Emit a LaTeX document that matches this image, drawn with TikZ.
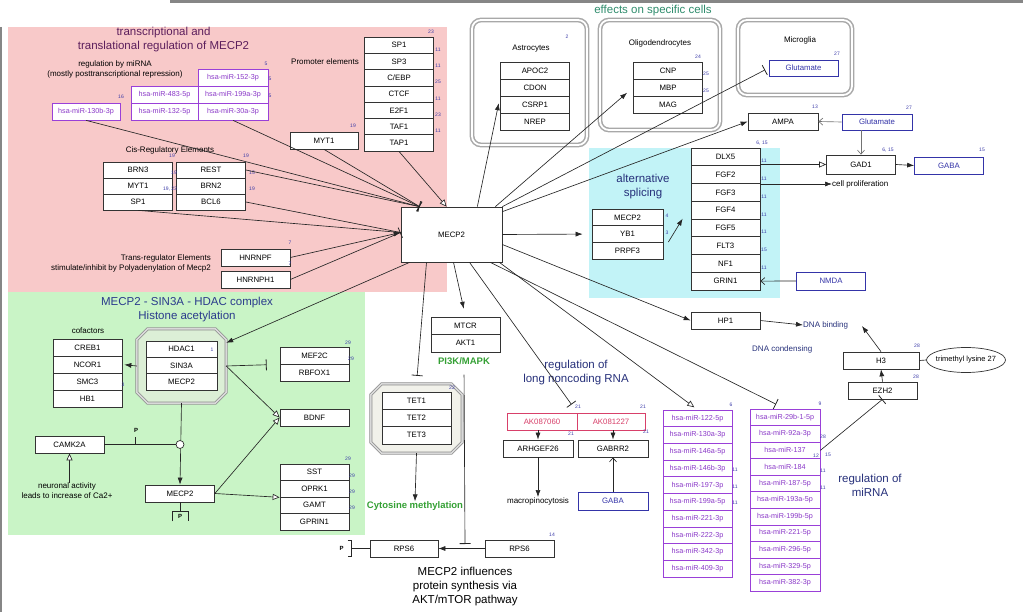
\documentclass[tikz,border=0pt]{standalone}
\usepackage{fontspec}
\setmainfont{Liberation Sans}
\usetikzlibrary{arrows.meta,calc,positioning,shapes.geometric}
\definecolor{pinkbg}{HTML}{F8C9C9}
\definecolor{greenbg}{HTML}{C9F4C6}
\definecolor{cyanbg}{HTML}{C2F3F7}
\definecolor{octgreen}{HTML}{DCEFD6}
\definecolor{octgrey}{HTML}{F1F1EA}
\definecolor{mirpurple}{HTML}{9A40D8}
\definecolor{mirtext}{HTML}{8A38C8}
\definecolor{metblue}{HTML}{3434A8}
\definecolor{lncred}{HTML}{D8406A}
\definecolor{numblue}{HTML}{3C3CA8}
\definecolor{titlepink}{HTML}{5C1E5C}
\definecolor{titlenavy}{HTML}{2A3A8C}
\definecolor{labnavy}{HTML}{26307A}
\definecolor{cellgreen}{HTML}{2E8C6C}
\definecolor{pathgreen}{HTML}{34A034}
\definecolor{framegrey}{HTML}{A8A8A8}
\pgfdeclarelayer{bg}
\pgfdeclarelayer{edges}
\pgfdeclarelayer{top}
\pgfsetlayers{bg,main,edges,top}
\tikzset{
  gene/.style={draw=black!80, line width=0.7pt, fill=white, minimum width=69pt, minimum height=17pt, inner sep=1pt, font=\fontsize{7.8}{8}\selectfont},
  mirbox/.style={gene, draw=mirpurple, text=mirtext, font=\fontsize{7.2}{8}\selectfont},
  metab/.style={gene, draw=metblue, text=metblue},
  lncbox/.style={gene, draw=lncred, text=lncred},
  num/.style={font=\fontsize{5}{5}\selectfont, text=numblue, inner sep=0},
  note/.style={font=\fontsize{8}{10}\selectfont, align=center, inner sep=0},
  head/.style={font=\fontsize{11.5}{14}\selectfont, align=center, inner sep=0},
  boldlab/.style={font=\bfseries\fontsize{9.5}{11}\selectfont, text=pathgreen, inner sep=0},
  cellframe/.style={draw=framegrey, line width=1.5pt, double=white, double distance=1.8pt, rounded corners=9pt},
  octo/.style={draw=black!45, line width=0.7pt, double=black!15, double distance=1.6pt},
  link/.style={draw=black!85, line width=0.65pt},
  actarr/.style={link, -{Latex[length=7pt,width=5pt]}},
  opnarr/.style={link, -{Triangle[length=7pt,width=6pt,fill=white]}},
  inharr/.style={link, -{Bar[width=11pt,line width=0.8pt]}},
  veearr/.style={link, -{Straight Barb[length=4pt,width=7pt]}},
}
\begin{document}
\begin{tikzpicture}[x=1pt,y=-1pt]
  \useasboundingbox (0,0) rectangle (1023,612);
  \begin{pgfonlayer}{bg}
    \fill[pinkbg] (8,27) rectangle (447,292);
    \fill[greenbg] (8,292) rectangle (365,535);
    \fill[cyanbg] (589,148) rectangle (780,298);
    \draw[framegrey!80!black, line width=2.5pt] (170,1.5) -- (1023,1.5);
    \draw[framegrey!80!black, line width=2pt] (1,27) -- (1,612);
    \draw[cellframe] (472,20) rectangle (587,145);
    \draw[cellframe] (600,20) rectangle (720,130);
    \draw[cellframe] (738,20) rectangle (852,95);
  \end{pgfonlayer}

  \node[head, text=titlepink] (ttrans) at (163.5,40) {transcriptional and\\translational regulation of MECP2};
  \node[note] (tmir) at (115,69) {regulation by miRNA\\(mostly posttranscriptional repression)};
  \node[note, anchor=east] (tprom) at (359,62) {Promoter elements};
  \node[note] (tcis) at (170,150) {Cis-Regulatory Elements};
  \node[note, align=right, anchor=east] (ttregs) at (211,263) {Trans-regulator Elements\\stimulate/inhibit by Polyadenylation of Mecp2};
  \node[head, text=cellgreen] (tcell) at (653,11) {effects on specific cells};
  \node[note] (tast) at (531,49) {Astrocytes};
  \node[note] (toli) at (660,43) {Oligodendrocytes};
  \node[note] (tmic) at (800,40) {Microglia};
  \node[note, anchor=west] (tcp) at (832,184) {cell proliferation};
  \node[head, text=labnavy] (tsplice) at (643,187) {alternative\\splicing};
  \node[note, text=labnavy, anchor=west] (tdnab) at (803,325) {DNA binding};
  \node[note, text=labnavy, anchor=west] (tdnac) at (752,349) {DNA condensing};
  \node[head, text=labnavy] (tmirreg) at (870,485.5) {regulation of\\miRNA};
  \node[head, text=labnavy] (tlnc) at (576,373) {regulation of\\long noncoding RNA};
  \node[head, text=titlenavy] (thdac) at (187,309.5) {MECP2 - SIN3A - HDAC complex\\Histone acetylation};
  \node[note] (tcof) at (88,331) {cofactors};
  \node[note] (tneur) at (67,491) {neuronal activity\\leads to increase of Ca2+};
  \node[boldlab] (tpi3k) at (464,361) {PI3K/MAPK};
  \node[boldlab] (tcyt) at (415,506) {Cytosine methylation};
  \node[note] (tmacro) at (538,501) {macropinocytosis};
  \node[head] (tprot) at (465,587) {MECP2 influences\\protein synthesis via\\AKT/mTOR pathway};

  \node[minimum width=89pt, minimum height=74pt, inner sep=0] (hdac) at (181.5,366) {};
  \node[minimum width=91pt, minimum height=69pt, inner sep=0] (tetb) at (416.5,418.5) {};

  \node[mirbox, minimum width=70pt] (mr152) at (233,77.5) {hsa-miR-152-3p};
  \node[mirbox, minimum width=67pt] (mr483) at (164.5,94.5) {hsa-miR-483-5p};
  \node[mirbox, minimum width=70pt] (mr199) at (233,94.5) {hsa-miR-199a-3p};
  \node[mirbox, minimum width=67pt] (mr132) at (164.5,111.5) {hsa-miR-132-5p};
  \node[mirbox, minimum width=70pt] (mr30) at (233,111.5) {hsa-miR-30a-3p};
  \node[mirbox, minimum width=68pt] (mr130) at (86,111.5) {hsa-miR-130b-3p};
  \foreach \g [count=\i] in {SP1,SP3,C/EBP,CTCF,E2F1,TAF1,TAP1}
    \node[gene, minimum height=16.3pt] (pr\i) at (399,{28.85+16.3*\i}) {\g};
  \node[gene, minimum width=68pt] (myt) at (324,140.5) {MYT1};
  \foreach \g [count=\i] in {BRN3,MYT1,SP1}
    \node[gene, minimum height=16pt] (cl\i) at (138,{154+16*\i}) {\g};
  \foreach \g [count=\i] in {REST,BRN2,BCL6}
    \node[gene, minimum height=16pt] (cr\i) at (211,{154+16*\i}) {\g};
  \node[gene] (hnf) at (255.5,257.5) {HNRNPF};
  \node[gene] (hnh) at (255.5,279.5) {HNRNPH1};
  \node[gene, minimum width=101pt, minimum height=55pt] (mecp) at (451.5,234.5) {MECP2};

  \foreach \g [count=\i] in {APOC2,CDON,CSRP1,NREP}
    \node[gene] (as\i) at (535,{53.5+17*\i}) {\g};
  \foreach \g [count=\i] in {CNP,MBP,MAG}
    \node[gene] (ol\i) at (668,{53.5+17*\i}) {\g};
  \node[metab, minimum height=16pt] (glu1) at (803.5,68) {Glutamate};
  \node[gene, minimum width=70pt] (ampa) at (783,121.5) {AMPA};
  \node[metab, minimum width=70pt, minimum height=16pt] (glu2) at (877,122) {Glutamate};
  \node[gene, minimum height=19pt] (gad) at (861,164.5) {GAD1};
  \node[metab] (gaba1) at (949,165.5) {GABA};
  \foreach \g [count=\i] in {MECP2,YB1,PRPF3}
    \node[gene, minimum width=71pt, minimum height=16.7pt] (sp\i) at (627.5,{200.65+16.7*\i}) {\g};
  \foreach \g [count=\i] in {DLX5,FGF2,FGF3,FGF4,FGF5,FLT3,NF1,GRIN1}
    \node[gene, minimum height=17.75pt] (bs\i) at (725.5,{139.125+17.75*\i}) {\g};
  \node[metab, minimum height=18pt] (nmda) at (831,281) {NMDA};
  \node[gene] (hp1) at (725.5,320.5) {HP1};
  \node[gene, minimum width=76pt] (h3) at (881,360.5) {H3};
  \node[draw=black!80, line width=0.7pt, ellipse, minimum width=79pt, minimum height=25pt, inner xsep=-3pt, inner ysep=0pt, font=\fontsize{7.5}{8}\selectfont] (tml) at (966,360) {trimethyl lysine 27};
  \node[gene] (ezh) at (882.5,390.5) {EZH2};

  \foreach \g [count=\i] in {CREB1,NCOR1,SMC3,HB1}
    \node[gene] (cf\i) at (87.5,{330.5+17*\i}) {\g};
  \foreach \g [count=\i] in {HDAC1,SIN3A,MECP2}
    \node[gene, minimum width=71pt, minimum height=16.3pt] (hd\i) at (181.5,{332.85+16.3*\i}) {\g};
  \foreach \g [count=\i] in {MEF2C,RBFOX1}
    \node[gene] (mf\i) at (314.5,{338.5+17*\i}) {\g};
  \node[gene] (bdnf) at (314.5,417.5) {BDNF};
  \foreach \g [count=\i] in {SST,OPRK1,GAMT,GPRIN1}
    \node[gene, minimum height=16.5pt] (ss\i) at (314.5,{455.75+16.5*\i}) {\g};
  \node[gene] (camk) at (69.5,444.5) {CAMK2A};
  \node[gene] (mlow) at (180,493.5) {MECP2};

  \foreach \g [count=\i] in {TET1,TET2,TET3}
    \node[gene, minimum height=17.3pt] (te\i) at (416.5,{383.35+17.3*\i}) {\g};
  \foreach \g [count=\i] in {MTCR,AKT1}
    \node[gene, minimum height=17.5pt] (mt\i) at (465.5,{308.25+17.5*\i}) {\g};
  \node[gene, minimum width=68pt] (rpsl) at (404,548.5) {RPS6};
  \node[gene] (rpsr) at (519.5,548.5) {RPS6};

  \node[lncbox, minimum width=70pt] (ak1) at (542,421.5) {AK087060};
  \node[lncbox, minimum width=68pt] (ak2) at (611,421.5) {AK081227};
  \node[gene, minimum width=70pt] (arh) at (538,448.5) {ARHGEF26};
  \node[gene, minimum width=70pt] (gbr) at (613,448.5) {GABRR2};
  \node[metab, minimum width=70pt, minimum height=18pt] (gaba2) at (613,501) {GABA};

  \foreach \g [count=\i] in {hsa-miR-122-5p,hsa-miR-130a-3p,hsa-miR-146a-5p,hsa-miR-146b-3p,hsa-miR-197-3p,
                             hsa-miR-199a-5p,hsa-miR-221-3p,hsa-miR-222-3p,hsa-miR-342-3p,hsa-miR-409-3p}
    \node[mirbox, minimum height=16.7pt] (ma\i) at (697.5,{401.65+16.7*\i}) {\g};
  \foreach \g [count=\i] in {hsa-miR-29b-1-5p,hsa-miR-92a-3p,hsa-miR-137,hsa-miR-184,hsa-miR-187-5p,hsa-miR-193a-5p,
                             hsa-miR-199b-5p,hsa-miR-221-5p,hsa-miR-296-5p,hsa-miR-329-5p,hsa-miR-382-3p}
    \node[mirbox, minimum width=70pt, minimum height=16.55pt] (mb\i) at (785,{400.725+16.55*\i}) {\g};

  \begin{pgfonlayer}{bg}
    \foreach \o/\c in {hdac/octgreen,tetb/octgrey}
      \draw[octo, fill=\c] ([xshift=11pt]\o.north west) -- ([xshift=-11pt]\o.north east) -- ([yshift=-11pt]\o.north east)
        -- ([yshift=11pt]\o.south east) -- ([xshift=-11pt]\o.south east) -- ([xshift=11pt]\o.south west)
        -- ([yshift=11pt]\o.south west) -- ([yshift=-11pt]\o.north west) -- cycle;
  \end{pgfonlayer}

  \coordinate (mtop) at ($(mecp.north west)+(19,0)$);
  \coordinate (mtap) at ($(mecp.north west)+(46,0)$);
  \coordinate (mwest) at ($(mecp.west)+(0,-2)$);
  \coordinate (dnatip) at (862,326);
  \coordinate (rpstee) at (465,544);
  \coordinate (ptick) at (135,444.5);
  \coordinate (pb) at ($(mlow.south)+(0,9)$);
  \coordinate (pr6) at ($(rpsl.west)+(-18,0)$);
  \begin{pgfonlayer}{top}
    \node[circle, draw=black!85, line width=0.65pt, fill=white, inner sep=0, minimum size=8pt] (cir) at (180,444.5) {};
  \end{pgfonlayer}

  \begin{pgfonlayer}{edges}
    \draw[inharr] (mr130.south) -- (mtop);
    \draw[inharr] (mr30.south) -- (mtop);
    \draw[inharr] (myt.south) -- (mtop);
    \draw[link] (cr1.east) -- (mtop);
    \draw[opnarr] (pr7.south) -- (mtap);
    \draw[link] (cl3.south) -- (mwest);
    \draw[link] (cr3.east) -- (mwest);
    \draw[actarr] (hnf.east) -- (mwest);
    \draw[inharr] (hnh.east) -- (mwest);

    \draw[actarr, shorten >=7pt] ($(mecp.north east)+(-25,0)$) -- (as2.south west);
    \draw[actarr, shorten >=8pt] ($(mecp.north east)+(-7,0)$) -- (ol2.west);
    \draw[inharr, shorten >=4pt] (mecp.north east) -- (glu1.west);
    \draw[actarr] ($(mecp.north east)+(0,5)$) -- (ampa.west);
    \draw[actarr, shorten >=9pt] (mecp.east) -- (sp2.west);
    \draw[actarr] ($(sp3.north east)+(5,0)$) -- ($(bs5.north west)+(-8,0)$);
    \draw[actarr] ($(mecp.east)+(0,10)$) -- (hp1.west);
    \draw[opnarr, shorten >=4pt] ($(mecp.south east)+(-3,0)$) -- (ma1.north);
    \draw[inharr, shorten >=10pt] ($(mecp.south east)+(-12,0)$) -- (mb1.north);
    \draw[inharr, shorten >=10pt] ($(mecp.south)+(18,0)$) -- (ak1.north east);
    \draw[actarr, shorten >=8pt] ($(mecp.south)+(2,0)$) -- (mt1.north);
    \draw[inharr, shorten >=8pt] ($(mecp.south)+(-25,0)$) -- (tetb.north);
    \draw[actarr] ($(mecp.south west)+(9,0)$) -- ($(hdac.north east)+(0,14)$);

    \draw[veearr, draw=black!55] (glu2.west) -- (ampa.east);
    \draw[veearr, draw=black!55] (glu2.south -| gad.north) -- (gad.north);
    \draw[opnarr] (gad.west -| bs1.east) -- (gad.west);
    \draw[actarr] (bs2.east |- tcp.west) -- (tcp.west);
    \draw[actarr] (gad.east) -- (gaba1.west);
    \draw[veearr] (nmda.west) -- (bs8.east);
    \draw[actarr] (hp1.east) -- (tdnab.west);
    \draw[actarr] (h3.north) -- (dnatip);
    \draw[link] (h3.east) -- (tml.west);
    \draw[actarr] (ezh.north) -- (h3.south);
    \draw[inharr] (mb3.east) -- (ezh.south);

    \draw[actarr, shorten >=2pt] (hdac.west) -- (cf2.east);
    \draw[inharr, shorten >=13pt] (hdac.east) -- (mf1.south west);
    \draw[opnarr] (hdac.east) -- (bdnf.west);
    \draw[opnarr] (mlow.east) -- (bdnf.west);
    \draw[opnarr] (mlow.east) -- (ss2.south west);
    \draw[actarr] (hdac.south) -- (mlow.north);
    \draw[link] (camk.east) -- (cir.west);
    \draw[link] (ptick) -- ++(0,-8);
    \draw[opnarr] (tneur.north -| camk.south) -- (camk.south);
    \draw[link] (mlow.south) -- (pb);
    \draw[link] ($(pb)+(-8,10)$) -- ($(pb)+(-8,0)$) -- ($(pb)+(8,0)$) -- ($(pb)+(8,10)$);

    \draw[actarr] (tetb.south) -- (tcyt.north);
    \draw[inharr, shorten <=10pt] (tpi3k.south) -- (rpstee);
    \draw[actarr] (rpsr.west) -- (rpsl.east);
    \draw[link] (rpsl.west) -- (pr6);
    \draw[link] ($(pr6)+(-4,-8)$) -- ($(pr6)+(0,-8)$) -- ($(pr6)+(0,8)$) -- ($(pr6)+(-4,8)$);

    \draw[actarr] (arh.north |- ak1.south) -- (arh.north);
    \draw[actarr] (gbr.north |- ak2.south) -- (gbr.north);
    \draw[actarr] (arh.south) -- (tmacro.north);
    \draw[veearr] (gaba2.north) -- (gbr.south);
  \end{pgfonlayer}

  \node[font=\bfseries\fontsize{6}{6}\selectfont, inner sep=0] (pcam) at (136,430) {P};
  \node[font=\bfseries\fontsize{6}{6}\selectfont, inner sep=0] (pmlow) at ($(pb)+(0,5.5)$) {P};
  \node[font=\bfseries\fontsize{6}{6}\selectfont, inner sep=0] (prps) at ($(pr6)+(-10,0)$) {P};

  \foreach \x/\y/\t in {266/64/5, 270/79/5, 270/96/5, 121/97/16, 431/32/23, 438/50/11, 438/66/11, 438/82/25, 438/99/11,
                        438/115/23, 438/131/11, 353/126/19, 172/156/19, 246/156/19, 174/173/19, 170/189/{19, 23},
                        252/173/15, 252/189/19, 290/243/7, 290/264/7, 567/37/2, 698/57/24, 706/74/25, 706/91/25,
                        837/54/27, 815/107/13, 909/108/27, 888/150/{6, 15}, 982/150/15, 762/143/{6, 15},
                        764/161/11, 764/179/11, 764/197/11, 764/215/11, 764/232/11, 764/250/15, 764/268/11,
                        667/216/4, 667/233/3, 917/346/28, 916/377/28, 212/350/1, 123/385/3, 348/343/29,
                        351/359/29, 348/459/29, 352/476/29, 352/492/29, 352/508/29, 452/388/22, 552/535/14,
                        578/407/21, 643/407/21, 571/434/21, 646/432/21, 731/405/6, 735/470/11, 735/487/11,
                        735/503/11, 820/404/9, 823/437/28, 816/456/12, 828/455/15, 823/471/11, 823/488/11}
    \node[num] at (\x,\y) {\t};
\end{tikzpicture}
\end{document}
